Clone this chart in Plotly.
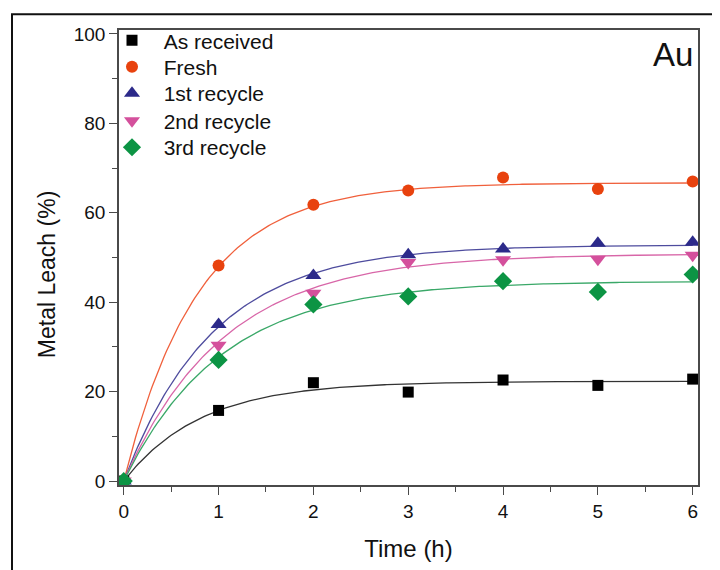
import numpy as np
import plotly.graph_objects as go

# ---- data ----
time_h = [0, 1, 2, 3, 4, 5, 6]
as_received = [0, 15.8, 22.0, 19.9, 22.6, 21.4, 22.8]
fresh = [0, 48.2, 61.8, 65.0, 67.9, 65.3, 67.0]
recycle_1 = [0, 35.0, 46.0, 50.6, 51.9, 53.2, 53.4]
recycle_2 = [0, 30.4, 42.0, 48.9, 49.5, 49.6, 50.5]
recycle_3 = [0, 27.1, 39.5, 41.3, 44.7, 42.3, 46.2]

series_names = ["As received", "Fresh", "1st recycle", "2nd recycle", "3rd recycle"]
series_values = [as_received, fresh, recycle_1, recycle_2, recycle_3]

# first-order kinetic fit parameters (plateau, rate constant)
fit_plateau = [22.3, 66.7, 52.8, 50.8, 44.7]
fit_rate = [1.23, 1.27, 1.06, 0.95, 0.97]

marker_colors = ["#000000", "#E8420E", "#2C2A8A", "#D4509C", "#0C9444"]
line_colors = ["#333333", "#F0603C", "#4E4C9E", "#D866A8", "#3AA868"]
marker_symbols = ["square", "circle", "triangle-up", "triangle-down", "diamond"]
marker_sizes = [11, 12, 14, 14, 14]

x_ticks = [0, 1, 2, 3, 4, 5, 6]
y_ticks = [0, 20, 40, 60, 80, 100]

FONT = "Liberation Sans, Arial, sans-serif"

# figure geometry (page body has an 8px margin, so figure px = screen px - 8)
W, H = 712, 562
ML, MR, MT, MB = 111, 22, 17, 81
PW, PH = W - ML - MR, H - MT - MB
OFF = 8


def px_x(sx):
    return (sx - OFF - ML) / PW


def px_y(sy):
    return (H - MB - (sy - OFF)) / PH


fig = go.Figure()

t_fine = np.linspace(0, 6, 241)
for name, A, k, lc in zip(series_names, fit_plateau, fit_rate, line_colors):
    fig.add_trace(go.Scatter(
        x=t_fine, y=A * (1 - np.exp(-k * t_fine)),
        mode="lines", line=dict(color=lc, width=1.3),
        showlegend=False, hoverinfo="skip", name=name + " fit"))

legend_ids = ["legend", "legend2", "legend3", "legend4", "legend5"]
row_centers = [38, 65, 92, 120, 147]  # screen pixels of legend rows
for name, vals, mc, sym, sz, lid in zip(series_names, series_values, marker_colors,
                                         marker_symbols, marker_sizes, legend_ids):
    fig.add_trace(go.Scatter(
        x=time_h, y=vals, mode="markers", name="\u00a0\u00a0" + name,
        legend=lid,
        marker=dict(color=mc, symbol=sym, size=sz, line=dict(width=0))))

axis_line = "#4a4a4a"
layout_legends = {}
for lid, rc in zip(legend_ids, row_centers):
    layout_legends[lid] = dict(
        x=px_x(112), y=px_y(rc - 23), xanchor="left", yanchor="top",
        bgcolor="rgba(0,0,0,0)", borderwidth=0,
        font=dict(family=FONT, size=21, color="#111111"))

fig.update_layout(
    width=W, height=H,
    margin=dict(l=ML, r=MR, t=MT, b=MB),
    paper_bgcolor="white", plot_bgcolor="white",
    font=dict(family=FONT, size=19, color="#111111"),
    showlegend=True,
    xaxis=dict(
        range=[-0.05, 6.056], tickvals=x_ticks, ticktext=[str(v) for v in x_ticks],
        showgrid=False, zeroline=False,
        showline=True, linecolor=axis_line, linewidth=1.5, mirror=True,
        ticks="outside", ticklen=8, tickwidth=1.2, tickcolor=axis_line,
        minor=dict(dtick=0.5, tick0=0, ticks="outside", ticklen=5, tickwidth=1.2,
                   tickcolor=axis_line, showgrid=False),
        tickfont=dict(size=19),
        title=dict(text="Time (h)", font=dict(size=24), standoff=20)),
    yaxis=dict(
        range=[-0.88, 100.88], tickvals=y_ticks, ticktext=[str(v) for v in y_ticks],
        showgrid=False, zeroline=False,
        showline=True, linecolor=axis_line, linewidth=1.5, mirror=True,
        ticks="outside", ticklen=8, tickwidth=1.2, tickcolor=axis_line,
        minor=dict(dtick=10, tick0=0, ticks="outside", ticklen=5, tickwidth=1.2,
                   tickcolor=axis_line, showgrid=False),
        tickfont=dict(size=19)),
    **layout_legends,
)

# y-axis title (placed as in the reference, slightly below plot centre)
fig.add_annotation(text="Metal Leach (%)", xref="paper", yref="paper",
                   x=px_x(47), y=px_y(275), xanchor="center", yanchor="middle",
                   textangle=-90, showarrow=False,
                   font=dict(family=FONT, size=23, color="#111111"))

# outer figure frame (top edge as high as the page allows)
fig.add_shape(type="rect", xref="paper", yref="paper",
              x0=px_x(12), x1=px_x(740), y0=px_y(590), y1=px_y(OFF + 1),
              line=dict(color="#111111", width=2), fillcolor="rgba(0,0,0,0)",
              layer="below")

fig.add_annotation(text="Au", xref="paper", yref="paper", x=0.995, y=px_y(29),
                   xanchor="right", yanchor="top", showarrow=False,
                   font=dict(family=FONT, size=33, color="#111111"))

fig.write_html("out.html")
